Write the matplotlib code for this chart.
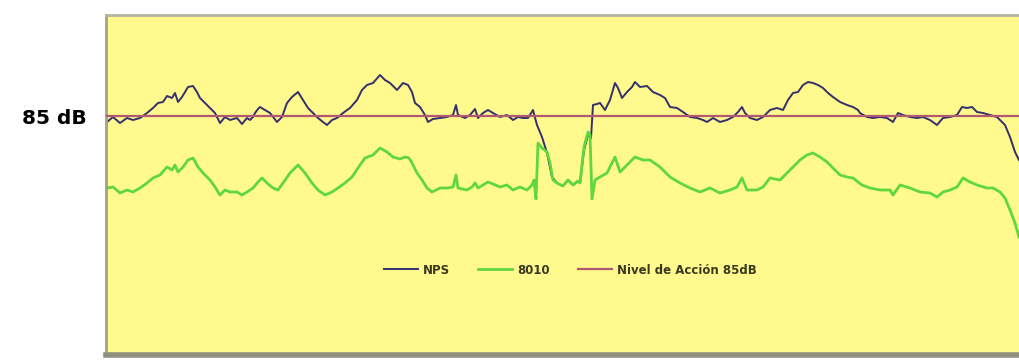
import matplotlib.pyplot as plt

# NPS (sound pressure level) readings: time index, dB
nps_t = [1, 7, 14, 21, 27, 34, 41, 47, 52, 57, 61, 66, 69, 72, 76, 79, 82, 87, 91, 94,
         99, 104, 109, 114, 119, 124, 131, 136, 141, 144, 147, 149, 152, 154, 159, 164,
         171, 176, 181, 186, 192, 197, 202, 207, 212, 217, 221, 226, 231, 237, 244, 251,
         256, 261, 267, 274, 279, 284, 291, 297, 302, 306, 309, 314, 319, 322, 327, 334,
         341, 347, 350, 352, 359, 364, 369, 372, 377, 382, 387, 394, 401, 407, 412, 417,
         422, 427, 431, 436, 441, 446, 451, 457, 462, 467, 472, 474, 478, 482, 485, 487,
         491, 494, 499, 504, 509, 512, 516, 521, 526, 529, 534, 541, 547, 554, 559, 564,
         571, 577, 584, 591, 597, 601, 607, 614, 621, 627, 632, 636, 639, 644, 651, 657,
         664, 671, 677, 682, 687, 692, 697, 702, 707, 712, 717, 722, 727, 734, 741, 747,
         752, 754, 761, 767, 774, 781, 787, 792, 797, 804, 811, 817, 824, 831, 837, 844,
         851, 856, 861, 866, 871, 877, 884, 891, 894, 899, 904, 909, 913]
nps_db = [84.4, 84.9, 84.3, 84.8, 84.6, 84.8, 85.3, 85.8, 86.3, 86.4, 87.0, 86.8, 87.3,
          86.4, 86.9, 87.4, 87.9, 88.0, 87.4, 86.8, 86.3, 85.8, 85.3, 84.3, 84.9, 84.6,
          84.8, 84.2, 84.8, 84.6, 84.9, 85.3, 85.7, 85.9, 85.6, 85.3, 84.4, 84.9, 86.3,
          86.9, 87.4, 86.6, 85.8, 85.3, 84.8, 84.4, 84.1, 84.6, 84.8, 85.3, 85.8, 86.6,
          87.6, 88.1, 88.3, 89.1, 88.6, 88.3, 87.6, 88.3, 88.1, 87.4, 86.3, 85.9, 85.1,
          84.4, 84.7, 84.8, 84.9, 85.1, 86.1, 85.1, 84.8, 85.1, 85.7, 84.8, 85.3, 85.6,
          85.3, 84.9, 85.1, 84.6, 84.9, 84.8, 84.8, 85.6, 84.1, 82.9, 81.3, 78.9, 78.3,
          78.0, 78.6, 78.1, 78.5, 78.3, 81.6, 83.1, 82.8, 86.1, 86.2, 86.3, 85.6, 86.6,
          88.3, 87.8, 86.8, 87.4, 87.9, 88.4, 87.9, 88.0, 87.4, 87.1, 86.8, 85.9, 85.8,
          85.4, 84.9, 84.8, 84.6, 84.4, 84.8, 84.4, 84.6, 84.9, 85.4, 85.9, 85.3, 84.8,
          84.6, 84.9, 85.6, 85.8, 85.6, 86.6, 87.3, 87.4, 88.1, 88.4, 88.3, 88.1, 87.8,
          87.3, 86.9, 86.4, 86.1, 85.9, 85.6, 85.3, 84.9, 84.8, 84.9, 84.8, 84.4, 85.3,
          85.1, 84.9, 84.8, 84.9, 84.6, 84.1, 84.8, 84.9, 85.1, 85.9, 85.8, 85.9, 85.4,
          85.3, 85.1, 84.9, 84.6, 84.1, 82.9, 81.4, 80.6]

# 8010 dosimeter readings: time index, dB
d8010_t = [1, 7, 14, 21, 27, 34, 41, 47, 54, 61, 66, 69, 72, 77, 82, 87, 92, 97, 104,
           109, 114, 119, 124, 131, 136, 141, 147, 152, 156, 161, 167, 172, 177, 184,
           192, 199, 206, 212, 219, 226, 232, 239, 246, 252, 259, 267, 274, 281, 287,
           294, 299, 303, 306, 311, 316, 321, 326, 334, 342, 347, 350, 352, 361, 366,
           369, 372, 377, 382, 387, 394, 401, 407, 414, 421, 426, 428, 430, 432, 436,
           441, 444, 447, 451, 457, 462, 467, 472, 474, 478, 482, 484, 486, 489, 494,
           501, 509, 514, 521, 529, 537, 544, 554, 564, 574, 584, 594, 604, 614, 624,
           631, 636, 641, 651, 657, 664, 674, 681, 687, 694, 701, 707, 714, 721, 727,
           734, 741, 747, 752, 756, 764, 774, 784, 787, 794, 804, 814, 824, 831, 837,
           844, 851, 857, 864, 871, 881, 887, 894, 899, 904, 909, 913]
d8010_db = [77.8, 77.9, 77.3, 77.6, 77.4, 77.8, 78.3, 78.8, 79.1, 79.9, 79.6, 80.1, 79.4,
            79.9, 80.6, 80.8, 79.9, 79.3, 78.6, 77.9, 77.1, 77.6, 77.4, 77.4, 77.1, 77.4,
            77.8, 78.4, 78.8, 78.3, 77.8, 77.6, 78.3, 79.3, 80.1, 79.3, 78.3, 77.6, 77.1,
            77.4, 77.8, 78.3, 78.9, 79.8, 80.8, 81.1, 81.8, 81.4, 80.9, 80.7, 80.9, 80.8,
            80.3, 79.3, 78.6, 77.8, 77.4, 77.8, 77.8, 77.9, 79.1, 77.8, 77.6, 77.9, 78.3,
            77.8, 78.1, 78.4, 78.2, 77.9, 78.1, 77.6, 77.9, 77.6, 78.1, 78.6, 76.7, 82.3,
            81.8, 81.4, 80.3, 78.6, 78.3, 78.0, 78.6, 78.1, 78.5, 78.3, 81.9, 83.4, 83.1,
            76.7, 78.6, 78.9, 79.3, 80.9, 79.4, 80.1, 80.9, 80.6, 80.6, 79.9, 78.9, 78.3,
            77.8, 77.4, 77.8, 77.3, 77.6, 77.9, 78.8, 77.6, 77.6, 77.9, 78.8, 78.6, 79.3,
            79.9, 80.6, 81.1, 81.3, 80.9, 80.4, 79.8, 79.1, 78.9, 78.8, 78.4, 78.1, 77.8,
            77.6, 77.6, 77.1, 78.1, 77.8, 77.4, 77.3, 76.9, 77.4, 77.6, 77.9, 78.8, 78.4,
            78.1, 77.8, 77.8, 77.4, 76.8, 75.6, 74.3, 72.9]

action_level = 85
labels = ['NPS', '8010', 'Nivel de Acción 85dB']

fig = plt.figure(figsize=(10.2, 3.6), dpi=100)
ax = fig.add_axes([106 / 1020, 5 / 360, 914 / 1020, 340 / 360])
ax.set_facecolor('#fff98e')

ax.plot(nps_t, nps_db, color='#33306e', lw=1.4, label=labels[0])
ax.plot(d8010_t, d8010_db, color='#5fd83c', lw=2.0, label=labels[1])
ax.axhline(action_level, color='#b05a72', lw=1.6, label=labels[2], zorder=3)

ax.set_xlim(0, 914)
ax.set_ylim(61.1, 95.1)
ax.set_xticks([])
ax.set_yticks([action_level])
ax.set_yticklabels(['85 dB'], fontsize=14.5, fontweight='heavy')
ax.tick_params(axis='y', length=0, pad=14)

ax.spines['right'].set_visible(False)
ax.spines['left'].set_color('#a3a283')
ax.spines['left'].set_linewidth(2)
ax.spines['top'].set_color('#b4b3a0')
ax.spines['top'].set_linewidth(2)
ax.spines['bottom'].set_color('#8f8f82')
ax.spines['bottom'].set_linewidth(4)

leg = ax.legend(loc='center', bbox_to_anchor=(0.508, 0.25), ncol=3, frameon=False,
                handlelength=2.9, columnspacing=2.4, handletextpad=0.4,
                prop={'size': 8.5, 'weight': 'bold'})
for txt in leg.get_texts():
    txt.set_color('#3a3a20')

fig.savefig('out.png', dpi=100)
